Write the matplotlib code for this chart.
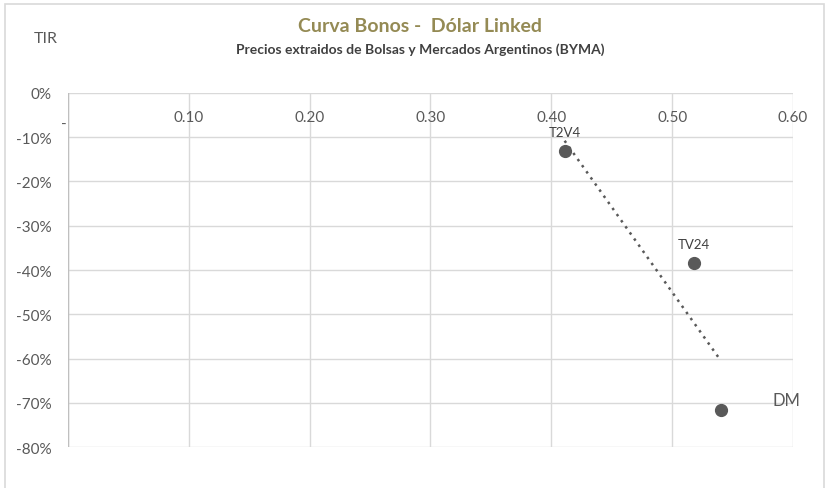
import matplotlib.pyplot as plt
import numpy as np
from matplotlib.patches import Rectangle
from matplotlib.ticker import FuncFormatter

# Datos
bonos = ['T2V4', 'TV24', '']
duration = np.array([0.411, 0.518, 0.540])
tir = np.array([-0.131, -0.384, -0.716])

x_ticks = [0.0, 0.1, 0.2, 0.3, 0.4, 0.5, 0.6]
y_ticks = [0.0, -0.1, -0.2, -0.3, -0.4, -0.5, -0.6, -0.7, -0.8]

gray = '#595959'
plt.rcParams['font.family'] = ['Lato', 'DejaVu Sans']

fig = plt.figure(figsize=(8.27, 4.89), dpi=100)
fig.patches.append(Rectangle((0.006, -0.01), 0.99, 1.0, transform=fig.transFigure,
                             fill=False, edgecolor='#d9d9d9', linewidth=1.2))

ax = fig.add_axes([0.0822, 0.0838, 0.8767, 0.724])
ax.set_xlim(0, 0.6)
ax.set_ylim(-0.8, 0)
ax.set_xticks(x_ticks)
ax.set_yticks(y_ticks)
ax.grid(True, color='#d9d9d9', linewidth=1)
ax.set_axisbelow(True)
for s in ax.spines.values():
    s.set_visible(False)
ax.axvline(0, color='#bfbfbf', linewidth=1)

ax.xaxis.set_ticks_position('top')
ax.xaxis.set_major_formatter(FuncFormatter(lambda v, p: '' if v == 0 else f'{v:.2f}'))
ax.yaxis.set_major_formatter(FuncFormatter(lambda v, p: f'{v * 100:.0f}%'))
ax.tick_params(axis='x', length=0, pad=-22, labelsize=11, labelcolor=gray)
ax.tick_params(axis='y', length=0, pad=12, labelsize=11, labelcolor=gray)
# etiqueta "-" del cero, a la izquierda del eje como en Excel
ax.annotate('-', (0, 0), xytext=(-3, -22), textcoords='offset points',
            ha='center', va='center', fontsize=11, color=gray)

# linea de tendencia (regresion lineal)
k, b = np.polyfit(duration, tir, 1)
xs = np.array([duration.min(), duration.max()])
ax.plot(xs, k * xs + b, linestyle=(0, (1, 2)), color=gray, linewidth=1.8)

ax.plot(duration, tir, 'o', color=gray, markersize=8.5, zorder=3)
for name, x, y in zip(bonos, duration, tir):
    if name:
        ax.annotate(name, (x, y), xytext=(0, 9), textcoords='offset points',
                    ha='center', va='bottom', fontsize=9.5, color='#404040')

fig.text(0.968, 0.18, 'DM', fontsize=12, color=gray, ha='right', va='center')
fig.text(0.055, 0.92, 'TIR', fontsize=11.5, color=gray, ha='center', va='center')
fig.text(0.508, 0.945, 'Curva Bonos -  Dólar Linked', fontsize=14, fontweight='bold',
         color='#948a54', ha='center', va='center')
fig.text(0.508, 0.898, 'Precios extraidos de Bolsas y Mercados Argentinos (BYMA)',
         fontsize=10, fontweight='bold', color='#404040', ha='center', va='center')

fig.savefig('out.png', dpi=100)
